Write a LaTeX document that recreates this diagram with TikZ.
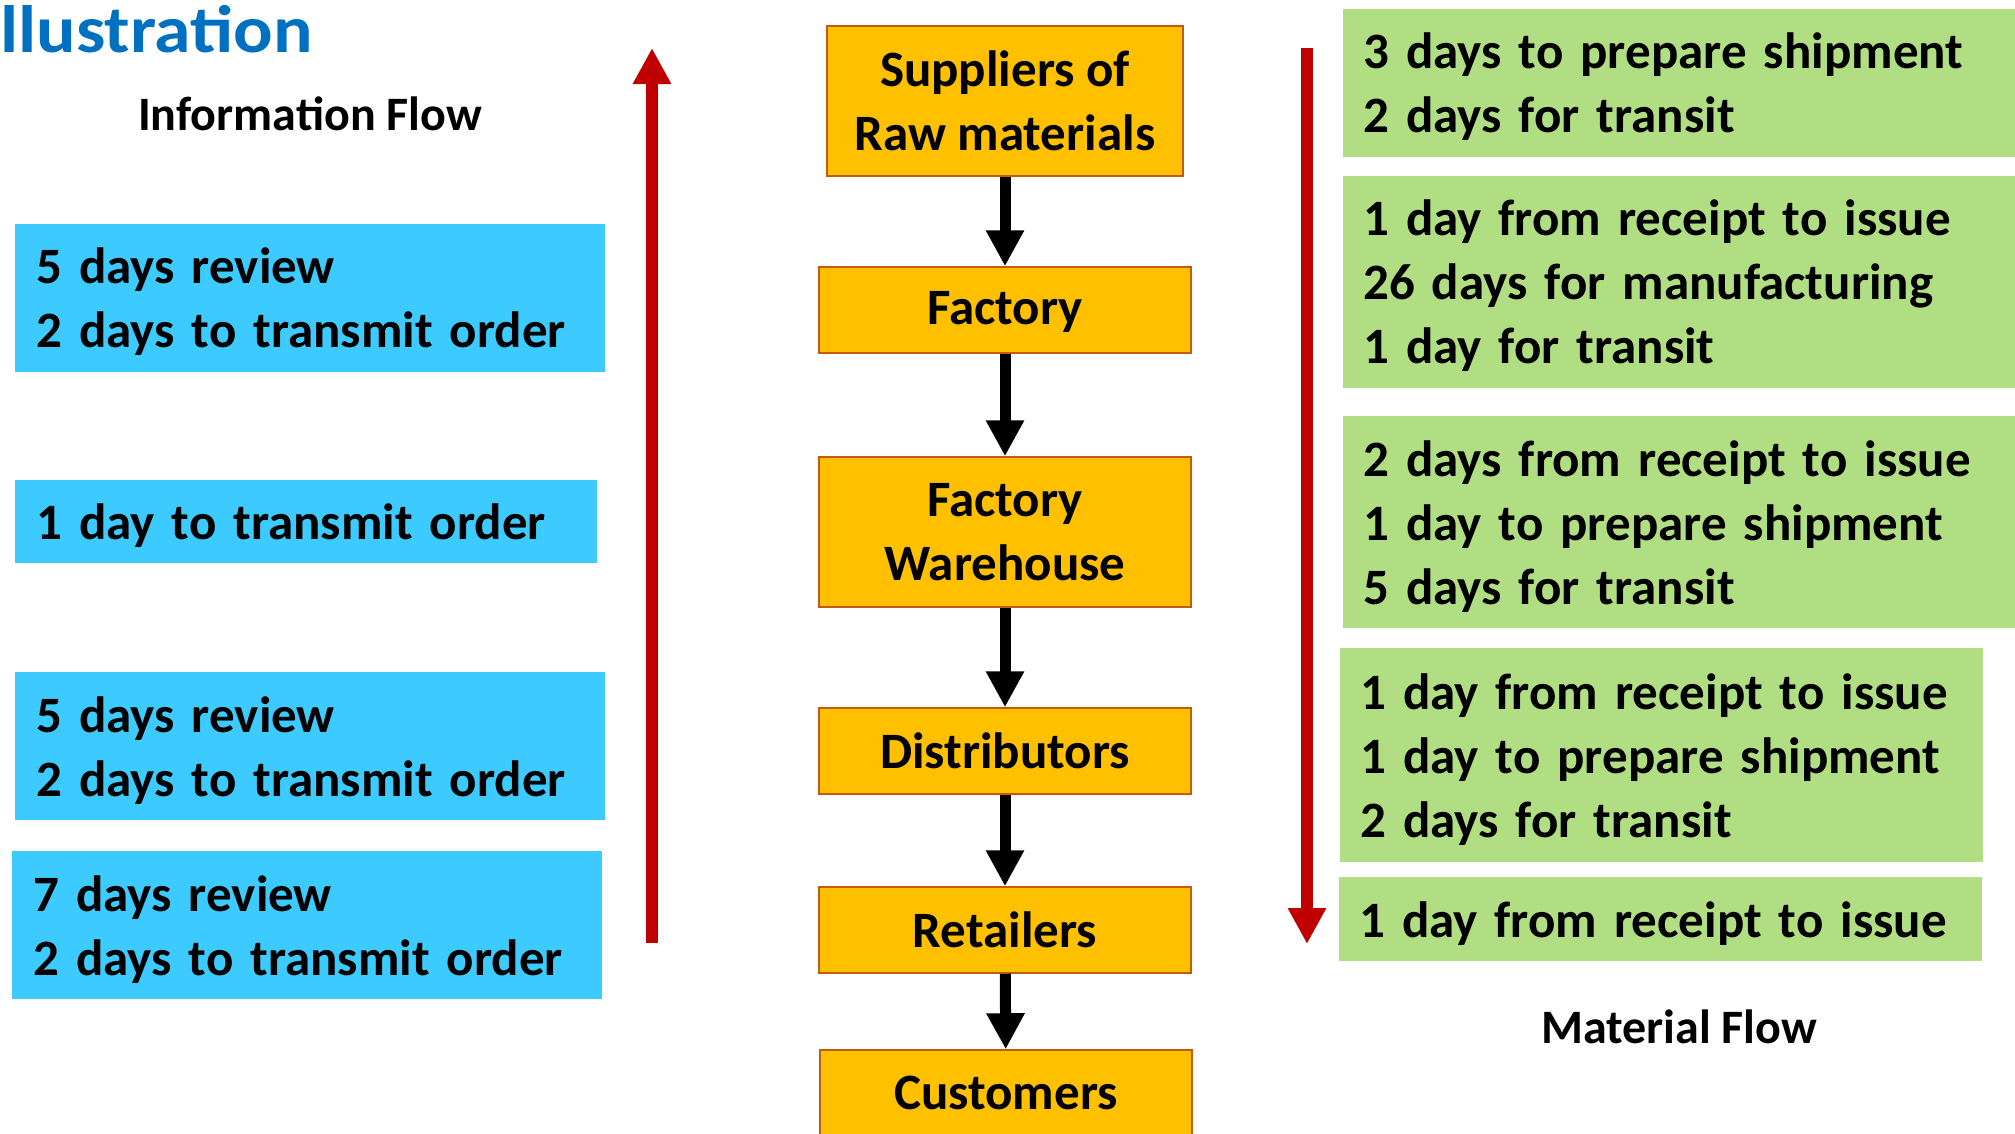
\documentclass[tikz,border=0pt]{standalone}
\usepackage{fontspec}
\setmainfont{Carlito}
\usetikzlibrary{arrows.meta}
\definecolor{skyblue}{RGB}{61,203,255}
\definecolor{leafgreen}{RGB}{177,222,130}
\definecolor{amber}{RGB}{255,192,0}
\definecolor{rust}{RGB}{197,90,17}
\definecolor{crimson}{RGB}{192,0,0}
\definecolor{titleblue}{RGB}{0,112,192}
\newcommand\boxfont{\fontsize{51pt}{64pt}\selectfont\bfseries}
\newcommand\labelfont{\fontsize{48pt}{58pt}\selectfont\bfseries}

\tikzset{
  stage/.style    = {draw=rust, line width=1.5pt, fill=amber, minimum width=372pt, minimum height=86pt,
                     align=center, inner sep=0pt, font=\boxfont},
  infobox/.style  = {fill=skyblue, anchor=west, text width=#1, align=left, inner xsep=21pt, inner ysep=0pt,
                     text height=44pt, minimum height=148pt, font=\boxfont},
  matbox/.style   = {fill=leafgreen, anchor=west, text width=#1, align=left, inner xsep=20pt, inner ysep=0pt,
                     text height=44pt, minimum height=212pt, font=\boxfont},
  flowlabel/.style= {anchor=base, inner sep=0pt, font=\labelfont},
  flow/.style     = {line width=11pt, -{Triangle[length=36pt,width=36pt]}},
  redflow/.style  = {crimson, line width=12pt, -{Triangle[length=36pt,width=36pt]}}
}

\begin{document}
\begin{tikzpicture}[x=1pt,y=-1pt]
    \useasboundingbox (0,0) rectangle (2015,1133);
    % headings
    \node[anchor=base west, inner sep=0pt, text=titleblue, font=\fontsize{67pt}{70pt}\selectfont\bfseries]
                                             (title)     at (0,52)     {\scalebox{1.1}[1]{llustration}};
    \node[flowlabel]                         (infolabel) at (310,130)  {Information Flow};
    \node[flowlabel]                         (matlabel)  at (1679,1043){Material Flow};

    % supply chain stages
    \node[stage, minimum width=356pt, minimum height=150pt] (sup)  at (1005,101) {Suppliers of\\Raw materials};
    \node[stage, text depth=4pt]                            (fac)  at (1005,310) {Factory};
    \node[stage, minimum height=150pt]                      (wh)   at (1005,532) {Factory\\Warehouse};
    \node[stage]                                            (dist) at (1005,751) {Distributors};
    \node[stage]                                            (ret)  at (1005,930) {Retailers};
    \node[stage]                                            (cust) at (1006,1093){Customers};
    \draw[flow] (sup)  -- (fac);
    \draw[flow] (fac)  -- (wh);
    \draw[flow] (wh)   -- (dist);
    \draw[flow] (dist) -- (ret);
    \draw[flow] (ret)  -- (cust);

    % information flow (upwards)
    \node[infobox=548pt]                     (review1)   at (15,298)   {5 days review\\2 days to transmit order};
    \node[infobox=540pt, minimum height=83pt](transmit)  at (15,521.5) {1 day to transmit order};
    \node[infobox=548pt]                     (review2)   at (15,746)   {5 days review\\2 days to transmit order};
    \node[infobox=548pt]                     (review3)   at (12,925)   {7 days review\\2 days to transmit order};
    \coordinate (infobottom) at (652,943);
    \coordinate (infotop)    at (652,48);
    \draw[redflow] (infobottom) -- (infotop);

    % material flow (downwards)
    \node[matbox=640pt, minimum height=148pt](ship1)     at (1343,83)  {3 days to prepare shipment\\2 days for transit};
    \node[matbox=640pt]                      (manuf)     at (1343,282) {1 day from receipt to issue\\26 days for manufacturing\\1 day for transit};
    \node[matbox=640pt]                      (ship2)     at (1343,522) {2 days from receipt to issue\\1 day to prepare shipment\\5 days for transit};
    \node[matbox=603pt, minimum height=214pt](ship3)     at (1340,755) {1 day from receipt to issue\\1 day to prepare shipment\\2 days for transit};
    \node[matbox=603pt, minimum height=84pt] (issue)     at (1339,919) {1 day from receipt to issue};
    \coordinate (mattop)    at (1307,48);
    \coordinate (matbottom) at (1307,944);
    \draw[redflow] (mattop) -- (matbottom);
\end{tikzpicture}
\end{document}
